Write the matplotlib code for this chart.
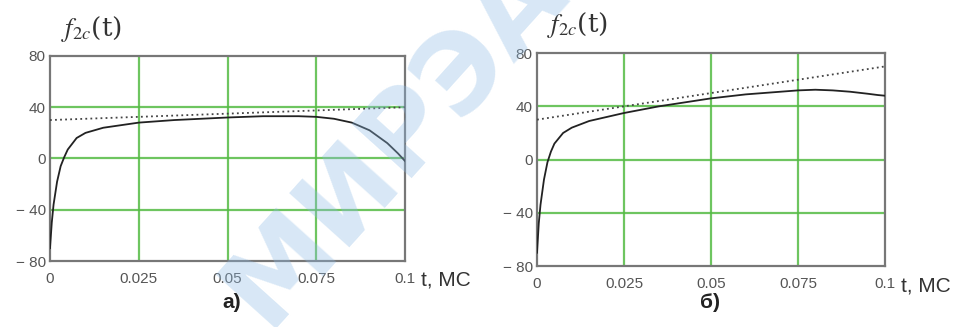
import numpy as np
import matplotlib
matplotlib.use('Agg')
import matplotlib.pyplot as plt

# time points, ms
t = [0, 0.0005, 0.001, 0.002, 0.003, 0.004, 0.005, 0.0075, 0.01, 0.015, 0.02, 0.025,
     0.035, 0.05, 0.06, 0.07, 0.075, 0.08, 0.085, 0.09, 0.095, 0.098, 0.1]
# panel a) solid curve
f_a = [-70, -50, -36, -18, -6, 1, 7, 16, 20, 24, 26, 28,
       30, 32, 33, 33, 32.5, 31, 28, 22, 12, 4, -2]
# panel b) solid curve
f_b = [-70, -48, -34, -15, -2, 6, 12, 20, 24, 29, 32, 35,
       40, 46, 49, 51, 52, 52.5, 52, 51, 49.5, 48.5, 48]
# dotted straight lines
t_lin = [0, 0.1]
lin_a = [30, 40]
lin_b = [30, 70]

xticks = [0, 0.025, 0.05, 0.075, 0.1]
xlabels = ['0', '0.025', '0.05', '0.075', '0.1']
yticks = [-80, -40, 0, 40, 80]
ylabels = ['\u2212 80', '\u2212 40', '0', '40', '80']
captions = ['а)', 'б)']

plt.rcParams['font.family'] = ['Liberation Sans', 'DejaVu Sans']
plt.rcParams['mathtext.fontset'] = 'stix'

fig = plt.figure(figsize=(9.69, 3.27), dpi=100)
ax1 = fig.add_axes([0.0516, 0.2018, 0.3664, 0.627])
ax2 = fig.add_axes([0.5542, 0.1865, 0.359, 0.651])

green = '#55bb44'
for ax, f, lin in zip([ax1, ax2], [f_a, f_b], [lin_a, lin_b]):
    ax.set_xlim(0, 0.1)
    ax.set_ylim(-80, 80)
    for x in xticks[1:-1]:
        ax.axvline(x, color=green, lw=1.6, alpha=0.85, zorder=1)
    for y in yticks[1:-1]:
        ax.axhline(y, color=green, lw=1.6, alpha=0.85, zorder=1)
    ax.plot(t_lin, lin, color='#444444', lw=1.3, ls=(0, (1, 1.8)), zorder=3)
    ax.plot(t, f, color='#222222', lw=1.3, zorder=4)
    ax.set_xticks(xticks)
    ax.set_xticklabels(xlabels)
    ax.set_yticks(yticks)
    ax.set_yticklabels(ylabels)
    ax.tick_params(length=0, labelsize=11, labelcolor='#555555')
    ax.tick_params(axis='x', pad=8)
    ax.tick_params(axis='y', pad=3)
    for s in ax.spines.values():
        s.set_color('#777777')
        s.set_linewidth(1.6)
    ax.text(1.045, -0.093, 't, MC', transform=ax.transAxes, fontsize=15,
            color='#333333', ha='left', va='center')
    ax.text(0.03, 1.06, r'$f_{2c}$(t)', transform=ax.transAxes, fontsize=19,
            color='#333333', ha='left', va='bottom', family='DejaVu Serif')

# sub-captions under the panels
fig.text(232 / 969, 1 - 302 / 327, captions[0], fontsize=15, color='#222222',
         ha='center', va='center', fontweight='bold')
fig.text(710 / 969, 1 - 302 / 327, captions[1], fontsize=15, color='#222222',
         ha='center', va='center', fontweight='bold')

# watermark
fig.text(395 / 969, 1 - 140 / 327, 'МИРЭА', fontsize=80, fontweight='bold',
         color='#8fbce6', alpha=0.35, rotation=48, ha='center', va='center',
         zorder=10, family='DejaVu Sans')

fig.savefig('out.png', dpi=100)
